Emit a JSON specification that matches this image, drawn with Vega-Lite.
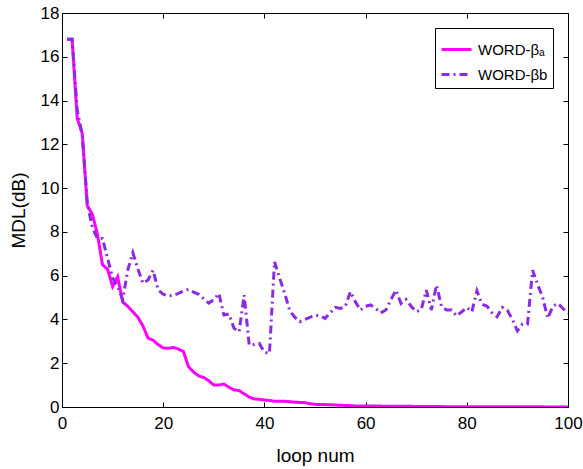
{
  "$schema": "https://vega.github.io/schema/vega-lite/v6.json",
  "autosize": "none",
  "width": 506,
  "height": 394,
  "padding": {"left": 62, "top": 13, "right": 15, "bottom": 62},
  "background": "white",
  "config": {
    "font": "Liberation Sans",
    "view": {"stroke": "black", "strokeWidth": 1},
    "axis": {
      "grid": false,
      "domainColor": "black",
      "tickColor": "black",
      "tickSize": -5,
      "labelFlush": false,
      "labelFontSize": 17,
      "labelColor": "black",
      "titleFontSize": 19,
      "titleFontWeight": "normal",
      "titleColor": "black"
    }
  },
  "data": {"values": [
    {"x":1,"y":16.8,"s":"a"},{"x":2,"y":16.8,"s":"a"},{"x":3,"y":13.2,"s":"a"},{"x":4,"y":12.5,"s":"a"},{"x":5,"y":9.2,"s":"a"},
    {"x":6,"y":8.8,"s":"a"},{"x":7,"y":7.9,"s":"a"},{"x":8,"y":6.5,"s":"a"},{"x":9,"y":6.3,"s":"a"},{"x":10,"y":5.5,"s":"a"},
    {"x":11,"y":5.95,"s":"a"},{"x":12,"y":4.8,"s":"a"},{"x":13,"y":4.6,"s":"a"},{"x":14,"y":4.35,"s":"a"},{"x":15,"y":4.1,"s":"a"},
    {"x":16,"y":3.7,"s":"a"},{"x":17,"y":3.15,"s":"a"},{"x":18,"y":3.05,"s":"a"},{"x":19,"y":2.85,"s":"a"},{"x":20,"y":2.7,"s":"a"},
    {"x":21,"y":2.68,"s":"a"},{"x":22,"y":2.72,"s":"a"},{"x":23,"y":2.65,"s":"a"},{"x":24,"y":2.53,"s":"a"},{"x":25,"y":1.84,"s":"a"},
    {"x":26,"y":1.6,"s":"a"},{"x":27,"y":1.42,"s":"a"},{"x":28,"y":1.35,"s":"a"},{"x":29,"y":1.2,"s":"a"},{"x":30,"y":1.0,"s":"a"},
    {"x":31,"y":1.0,"s":"a"},{"x":32,"y":1.05,"s":"a"},{"x":33,"y":0.9,"s":"a"},{"x":34,"y":0.78,"s":"a"},{"x":35,"y":0.75,"s":"a"},
    {"x":36,"y":0.6,"s":"a"},{"x":37,"y":0.45,"s":"a"},{"x":38,"y":0.37,"s":"a"},{"x":39,"y":0.35,"s":"a"},{"x":40,"y":0.32,"s":"a"},
    {"x":41,"y":0.3,"s":"a"},{"x":42,"y":0.26,"s":"a"},{"x":43,"y":0.26,"s":"a"},{"x":44,"y":0.26,"s":"a"},{"x":45,"y":0.24,"s":"a"},
    {"x":46,"y":0.22,"s":"a"},{"x":47,"y":0.21,"s":"a"},{"x":48,"y":0.2,"s":"a"},{"x":49,"y":0.15,"s":"a"},{"x":50,"y":0.12,"s":"a"},
    {"x":51,"y":0.11,"s":"a"},{"x":52,"y":0.11,"s":"a"},{"x":53,"y":0.1,"s":"a"},{"x":54,"y":0.09,"s":"a"},{"x":55,"y":0.08,"s":"a"},
    {"x":56,"y":0.07,"s":"a"},{"x":57,"y":0.06,"s":"a"},{"x":58,"y":0.05,"s":"a"},{"x":59,"y":0.05,"s":"a"},{"x":60,"y":0.04,"s":"a"},
    {"x":61,"y":0.04,"s":"a"},{"x":62,"y":0.04,"s":"a"},{"x":63,"y":0.04,"s":"a"},{"x":64,"y":0.035,"s":"a"},{"x":65,"y":0.035,"s":"a"},
    {"x":66,"y":0.03,"s":"a"},{"x":67,"y":0.03,"s":"a"},{"x":68,"y":0.03,"s":"a"},{"x":69,"y":0.03,"s":"a"},{"x":70,"y":0.025,"s":"a"},
    {"x":71,"y":0.025,"s":"a"},{"x":72,"y":0.02,"s":"a"},{"x":73,"y":0.02,"s":"a"},{"x":74,"y":0.02,"s":"a"},{"x":75,"y":0.02,"s":"a"},
    {"x":76,"y":0.015,"s":"a"},{"x":77,"y":0.015,"s":"a"},{"x":78,"y":0.015,"s":"a"},{"x":79,"y":0.01,"s":"a"},{"x":80,"y":0.01,"s":"a"},
    {"x":81,"y":0.01,"s":"a"},{"x":82,"y":0.01,"s":"a"},{"x":83,"y":0.01,"s":"a"},{"x":84,"y":0.01,"s":"a"},{"x":85,"y":0.01,"s":"a"},
    {"x":86,"y":0.008,"s":"a"},{"x":87,"y":0.008,"s":"a"},{"x":88,"y":0.008,"s":"a"},{"x":89,"y":0.008,"s":"a"},{"x":90,"y":0.007,"s":"a"},
    {"x":91,"y":0.007,"s":"a"},{"x":92,"y":0.007,"s":"a"},{"x":93,"y":0.006,"s":"a"},{"x":94,"y":0.006,"s":"a"},{"x":95,"y":0.006,"s":"a"},
    {"x":96,"y":0.005,"s":"a"},{"x":97,"y":0.005,"s":"a"},{"x":98,"y":0.005,"s":"a"},{"x":99,"y":0.005,"s":"a"},{"x":100,"y":0.005,"s":"a"},
    {"x":1,"y":16.8,"s":"b"},{"x":2,"y":16.8,"s":"b"},{"x":3,"y":13.6,"s":"b"},{"x":4,"y":12.4,"s":"b"},{"x":5,"y":9.3,"s":"b"},
    {"x":6,"y":8.2,"s":"b"},{"x":7,"y":7.7,"s":"b"},{"x":8,"y":7.7,"s":"b"},{"x":9,"y":6.8,"s":"b"},{"x":10,"y":5.9,"s":"b"},
    {"x":11,"y":5.5,"s":"b"},{"x":12,"y":4.9,"s":"b"},{"x":13,"y":6.25,"s":"b"},{"x":14,"y":7.05,"s":"b"},{"x":15,"y":6.3,"s":"b"},
    {"x":16,"y":5.65,"s":"b"},{"x":17,"y":5.8,"s":"b"},{"x":18,"y":6.25,"s":"b"},{"x":19,"y":5.35,"s":"b"},{"x":20,"y":5.15,"s":"b"},
    {"x":21,"y":5.07,"s":"b"},{"x":22,"y":5.1,"s":"b"},{"x":23,"y":5.19,"s":"b"},{"x":24,"y":5.3,"s":"b"},{"x":25,"y":5.37,"s":"b"},
    {"x":26,"y":5.25,"s":"b"},{"x":27,"y":5.15,"s":"b"},{"x":28,"y":4.95,"s":"b"},{"x":29,"y":4.75,"s":"b"},{"x":30,"y":4.9,"s":"b"},
    {"x":31,"y":5.19,"s":"b"},{"x":32,"y":4.2,"s":"b"},{"x":33,"y":4.25,"s":"b"},{"x":34,"y":3.6,"s":"b"},{"x":35,"y":3.44,"s":"b"},
    {"x":36,"y":5.11,"s":"b"},{"x":37,"y":2.83,"s":"b"},{"x":38,"y":2.85,"s":"b"},{"x":39,"y":2.9,"s":"b"},{"x":40,"y":2.5,"s":"b"},
    {"x":41,"y":2.45,"s":"b"},{"x":42,"y":6.64,"s":"b"},{"x":43,"y":5.9,"s":"b"},{"x":44,"y":5.2,"s":"b"},{"x":45,"y":4.4,"s":"b"},
    {"x":46,"y":4.1,"s":"b"},{"x":47,"y":3.9,"s":"b"},{"x":48,"y":4.0,"s":"b"},{"x":49,"y":4.1,"s":"b"},{"x":50,"y":4.2,"s":"b"},
    {"x":51,"y":4.15,"s":"b"},{"x":52,"y":4.05,"s":"b"},{"x":53,"y":4.3,"s":"b"},{"x":54,"y":4.55,"s":"b"},{"x":55,"y":4.5,"s":"b"},
    {"x":56,"y":4.6,"s":"b"},{"x":57,"y":5.27,"s":"b"},{"x":58,"y":4.8,"s":"b"},{"x":59,"y":4.43,"s":"b"},{"x":60,"y":4.6,"s":"b"},
    {"x":61,"y":4.66,"s":"b"},{"x":62,"y":4.5,"s":"b"},{"x":63,"y":4.3,"s":"b"},{"x":64,"y":4.43,"s":"b"},{"x":65,"y":4.9,"s":"b"},
    {"x":66,"y":5.34,"s":"b"},{"x":67,"y":4.73,"s":"b"},{"x":68,"y":4.92,"s":"b"},{"x":69,"y":4.6,"s":"b"},{"x":70,"y":4.35,"s":"b"},
    {"x":71,"y":4.45,"s":"b"},{"x":72,"y":5.34,"s":"b"},{"x":73,"y":4.43,"s":"b"},{"x":74,"y":5.57,"s":"b"},{"x":75,"y":4.6,"s":"b"},
    {"x":76,"y":4.43,"s":"b"},{"x":77,"y":4.43,"s":"b"},{"x":78,"y":4.16,"s":"b"},{"x":79,"y":4.35,"s":"b"},{"x":80,"y":4.55,"s":"b"},
    {"x":81,"y":4.35,"s":"b"},{"x":82,"y":5.31,"s":"b"},{"x":83,"y":4.7,"s":"b"},{"x":84,"y":4.6,"s":"b"},{"x":85,"y":4.3,"s":"b"},
    {"x":86,"y":4.12,"s":"b"},{"x":87,"y":4.55,"s":"b"},{"x":88,"y":4.43,"s":"b"},{"x":89,"y":4.0,"s":"b"},{"x":90,"y":3.48,"s":"b"},
    {"x":91,"y":3.79,"s":"b"},{"x":92,"y":3.79,"s":"b"},{"x":93,"y":6.25,"s":"b"},{"x":94,"y":5.6,"s":"b"},{"x":95,"y":5.0,"s":"b"},
    {"x":96,"y":4.05,"s":"b"},{"x":97,"y":4.6,"s":"b"},{"x":98,"y":4.73,"s":"b"},{"x":99,"y":4.5,"s":"b"},{"x":100,"y":4.28,"s":"b"}
  ]},
  "transform": [
    {"calculate": "datum.s === 'a' ? 'WORD-βₐ' : 'WORD-βb'", "as": "series"}
  ],
  "layer": [
    {
      "mark": {"type": "line", "strokeWidth": 3, "clip": true},
      "encoding": {
        "x": {"field": "x", "type": "quantitative", "scale": {"domain": [0, 100], "nice": false},
              "axis": {"orient": "bottom", "values": [0,20,40,60,80,100], "title": "loop num", "labelPadding": 13, "titlePadding": 15}},
        "y": {"field": "y", "type": "quantitative", "scale": {"domain": [0, 18], "nice": false},
              "axis": {"orient": "left", "values": [0,2,4,6,8,10,12,14,16,18], "title": "MDL(dB)", "labelPadding": 8, "titlePadding": 12}},
        "color": {"field": "series", "type": "nominal",
                  "scale": {"domain": ["WORD-βₐ", "WORD-βb"], "range": ["#FF00FF", "#8A2BE2"]},
                  "legend": {"title": null, "orient": "none", "legendX": 373, "legendY": 15,
                             "strokeColor": "black", "fillColor": "white", "padding": 5,
                             "symbolType": "stroke", "symbolSize": 900, "symbolStrokeWidth": 3,
                             "labelFontSize": 15, "labelColor": "black", "labelOffset": 5, "rowPadding": 0, "cornerRadius": 0}},
        "strokeDash": {"field": "series", "type": "nominal",
                       "scale": {"domain": ["WORD-βₐ", "WORD-βb"], "range": [[1, 0], [8, 4, 2, 4]]},
                       "legend": null},
        "order": {"field": "x", "type": "quantitative"}
      }
    },
    {
      "mark": {"type": "line", "opacity": 0},
      "encoding": {
        "x": {"field": "x", "type": "quantitative",
              "axis": {"orient": "top", "values": [0,20,40,60,80,100], "labels": false, "title": null}},
        "y": {"field": "y", "type": "quantitative",
              "axis": {"orient": "right", "values": [0,2,4,6,8,10,12,14,16,18], "labels": false, "title": null}},
        "detail": {"field": "s"}
      }
    }
  ],
  "resolve": {"axis": {"x": "independent", "y": "independent"}}
}
